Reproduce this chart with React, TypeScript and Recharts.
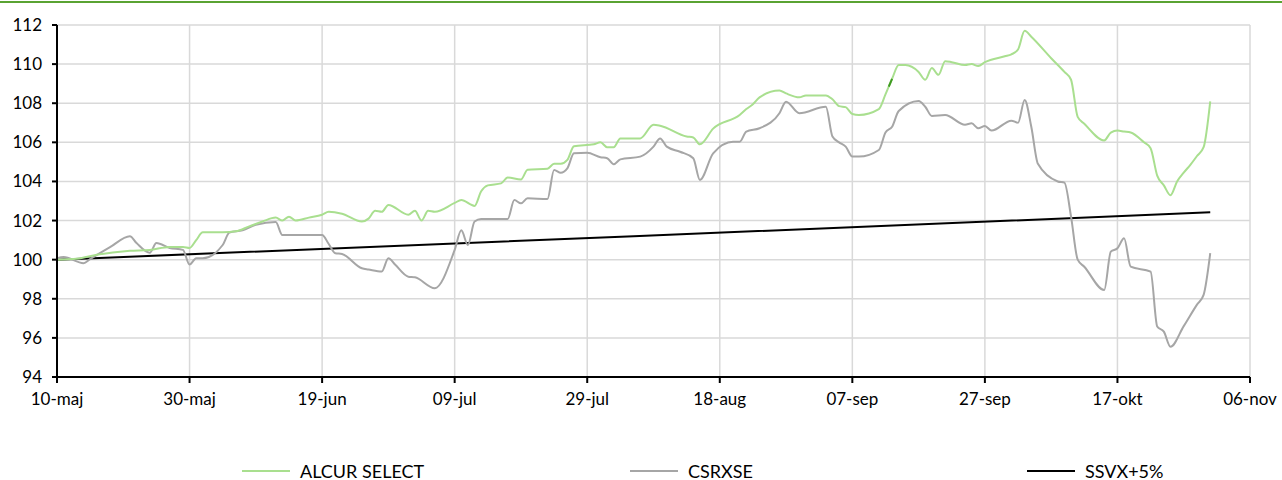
import { CartesianGrid, Line, LineChart, XAxis, YAxis } from 'recharts'

// day offsets are counted from 10-maj
const tickDays = [0, 20, 40, 60, 80, 100, 120, 140, 160, 180]
const tickLabels = ['10-maj', '30-maj', '19-jun', '09-jul', '29-jul', '18-aug', '07-sep', '27-sep', '17-okt', '06-nov']
const yTicks = [94, 96, 98, 100, 102, 104, 106, 108, 110, 112]

const alcurDays = [
	0, 3, 6, 11, 14, 17, 19, 20, 21, 22, 25, 27, 29, 31, 33, 34, 35, 36, 38, 40, 41, 43, 46, 47, 48, 49, 50, 53, 54, 55, 56,
	57, 60, 61, 63, 64, 65, 67, 68, 70, 71, 74, 75, 76, 77, 78, 81, 82, 83, 84, 85, 88, 90, 91, 95, 96, 97, 99, 103, 104,
	105, 106, 109, 110, 112, 113, 116, 117, 118, 119, 120, 121, 124, 125, 126, 127, 128, 130, 131, 132, 133, 134, 135, 137,
	138, 139, 140, 143, 144, 145, 146, 147, 150, 152, 153, 154, 155, 158, 159, 160, 161, 162, 164, 165, 166, 167, 168, 169,
	170, 171, 172, 173, 174,
]
const alcurValues = [
	100.0, 100.05, 100.25, 100.45, 100.5, 100.65, 100.65, 100.6, 101.0, 101.4, 101.4, 101.45, 101.7, 101.95, 102.15, 102.0,
	102.2, 102.0, 102.15, 102.3, 102.45, 102.35, 101.95, 102.1, 102.5, 102.45, 102.8, 102.3, 102.5, 102.0, 102.5, 102.45,
	102.9, 103.05, 102.75, 103.5, 103.8, 103.9, 104.2, 104.1, 104.6, 104.65, 104.9, 104.9, 105.1, 105.8, 105.9, 106.0,
	105.75, 105.75, 106.2, 106.2, 106.9, 106.85, 106.3, 106.25, 105.9, 106.7, 107.4, 107.7, 107.95, 108.3, 108.65, 108.5,
	108.3, 108.4, 108.4, 108.2, 107.85, 107.8, 107.45, 107.4, 107.7, 108.45, 109.25, 109.95, 109.95, 109.6, 109.2, 109.8,
	109.45, 110.15, 110.1, 109.95, 110.0, 109.9, 110.1, 110.4, 110.5, 110.75, 111.7, 111.4, 110.3, 109.6, 109.2, 107.3,
	106.95, 106.1, 106.5, 106.6, 106.55, 106.5, 106.0, 105.7, 104.3, 103.8, 103.3, 104.0, 104.45, 104.85, 105.3, 105.75,
	108.1,
]

const csrDays = [
	0, 1, 4, 5, 8, 11, 12, 14, 15, 17, 19, 20, 21, 22, 25, 26, 28, 30, 33, 34, 40, 41, 42, 43, 46, 47, 49, 50, 51, 53, 54,
	57, 60, 61, 62, 63, 64, 68, 69, 70, 71, 74, 75, 76, 77, 78, 80, 82, 83, 84, 85, 88, 90, 91, 92, 94, 96, 97, 99, 102,
	103, 104, 106, 109, 110, 112, 116, 117, 118, 119, 120, 121, 124, 125, 126, 127, 130, 131, 132, 134, 137, 138, 139, 140,
	141, 144, 145, 146, 147, 148, 151, 152, 153, 154, 155, 158, 159, 160, 161, 162, 165, 166, 167, 168, 170, 172, 173, 174,
]
const csrValues = [
	100.08, 100.13, 99.82, 100.03, 100.64, 101.2, 100.85, 100.35, 100.85, 100.6, 100.5, 99.75, 100.07, 100.07, 100.75,
	101.38, 101.5, 101.78, 101.92, 101.26, 101.26, 100.8, 100.33, 100.29, 99.56, 99.5, 99.4, 100.07, 99.75, 99.13, 99.1,
	98.54, 100.5, 101.5, 100.75, 101.95, 102.08, 102.08, 103.05, 102.88, 103.14, 103.1, 104.59, 104.45, 104.67, 105.44,
	105.47, 105.24, 105.19, 104.88, 105.13, 105.27, 105.78, 106.2, 105.78, 105.52, 105.19, 104.08, 105.44, 106.03, 106.03,
	106.55, 106.72, 107.49, 108.08, 107.49, 107.82, 106.3, 106.0, 105.78, 105.27, 105.27, 105.61, 106.5, 106.8, 107.6,
	108.11, 107.82, 107.35, 107.4, 106.9, 106.97, 106.72, 106.84, 106.6, 107.11, 107.0, 108.17, 106.8, 104.9, 104.0,
	103.94, 102.2, 100.0, 99.64, 98.45, 100.41, 100.58, 101.09, 99.64, 99.39, 96.58, 96.32, 95.55, 96.6, 97.7, 98.2, 100.33,
]

const ssvxDays = [0, 87, 174]
const ssvxValues = [100.0, 101.2, 102.42]

// short darker stretch on the ALCUR line
const markDays = [125.5, 126]
const markValues = [108.85, 109.25]

const toPoints = (days: number[], values: number[]) => days.map((d, i) => ({ d, v: values[i] }))

const alcurData = toPoints(alcurDays, alcurValues)
const csrData = toPoints(csrDays, csrValues)
const ssvxData = toPoints(ssvxDays, ssvxValues)
const markData = toPoints(markDays, markValues)

const legendItems = [
	{ name: 'ALCUR SELECT', color: '#a9df8f', left: 242 },
	{ name: 'CSRXSE', color: '#a6a6a6', left: 630 },
	{ name: 'SSVX+5%', color: '#000000', left: 1027 },
]

const font = 'Lato, "Open Sans", sans-serif'

export default function App() {
	return (
		<div style={{ position: 'absolute', left: 0, top: 0, width: 1282, height: 480, background: '#fff', fontFamily: font }}>
			<div style={{ position: 'absolute', left: 0, top: 1, width: 1282, height: 2, background: '#5aa332' }} />
			<LineChart width={1282} height={480} margin={{ top: 25, right: 32, left: 0, bottom: 63 }}>
				<CartesianGrid stroke="#d9d9d9" strokeWidth={1.5} />
				<XAxis
					type="number"
					dataKey="d"
					domain={[0, 180]}
					ticks={tickDays}
					tickFormatter={(v: number) => tickLabels[tickDays.indexOf(v)] ?? ''}
					height={40}
					tickSize={6}
					tickMargin={10}
					stroke="#000"
					strokeWidth={2}
					tick={{ fontSize: 17, fill: '#000', fontFamily: font }}
					interval={0}
				/>
				<YAxis
					type="number"
					domain={[94, 112]}
					ticks={yTicks}
					width={57}
					tickSize={5}
					tickMargin={10}
					stroke="#000"
					strokeWidth={2}
					tick={{ fontSize: 17, fill: '#000', fontFamily: font }}
					interval={0}
				/>
				<Line data={ssvxData} dataKey="v" name="SSVX+5%" type="linear" stroke="#000" strokeWidth={2} dot={false} isAnimationActive={false} />
				<Line data={csrData} dataKey="v" name="CSRXSE" type="monotone" stroke="#a6a6a6" strokeWidth={2} dot={false} isAnimationActive={false} />
				<Line data={alcurData} dataKey="v" name="ALCUR SELECT" type="monotone" stroke="#a9df8f" strokeWidth={2} dot={false} isAnimationActive={false} />
				<Line data={markData} dataKey="v" name="mark" type="linear" stroke="#3f9a22" strokeWidth={2} dot={false} legendType="none" isAnimationActive={false} />
			</LineChart>
			{legendItems.map((it) => (
				<div key={it.name} style={{ position: 'absolute', left: it.left, top: 460, display: 'flex', alignItems: 'center', fontSize: 18 }}>
					<span style={{ display: 'inline-block', width: 48, height: 2, background: it.color, marginRight: 10 }} />
					<span>{it.name}</span>
				</div>
			))}
		</div>
	)
}
